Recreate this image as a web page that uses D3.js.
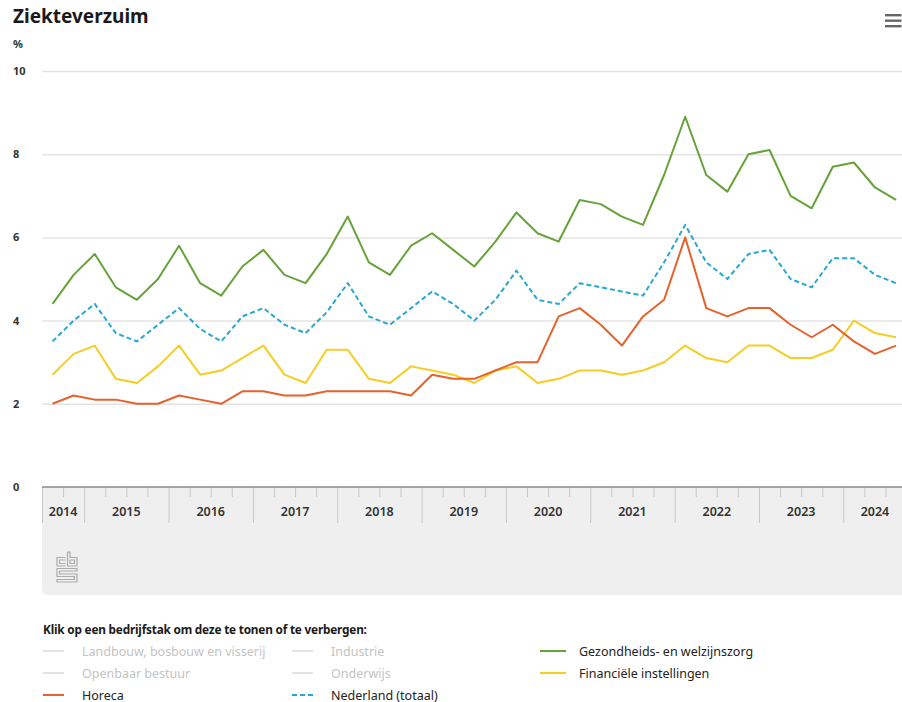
<!DOCTYPE html>
<html>
<head>
<meta charset="utf-8">
<script src="https://cdn.jsdelivr.net/npm/d3@7"></script>
<style>
  body { margin: 0; background: #fff; }
  svg { display: block; font-family: "Noto Sans", sans-serif; }
</style>
</head>
<body>
<div class="chart"></div>
<script>
// kwartalen 2014K3 t/m 2024K3
const quarters = [
  "2014K3","2014K4",
  "2015K1","2015K2","2015K3","2015K4",
  "2016K1","2016K2","2016K3","2016K4",
  "2017K1","2017K2","2017K3","2017K4",
  "2018K1","2018K2","2018K3","2018K4",
  "2019K1","2019K2","2019K3","2019K4",
  "2020K1","2020K2","2020K3","2020K4",
  "2021K1","2021K2","2021K3","2021K4",
  "2022K1","2022K2","2022K3","2022K4",
  "2023K1","2023K2","2023K3","2023K4",
  "2024K1","2024K2","2024K3"
];

const years = [2014, 2015, 2016, 2017, 2018, 2019, 2020, 2021, 2022, 2023, 2024];
const yTicks = [0, 2, 4, 6, 8, 10];

const zorg = [4.4,5.1,5.6,4.8,4.5,5.0,5.8,4.9,4.6,5.3,5.7,5.1,4.9,5.6,6.5,5.4,5.1,5.8,6.1,5.7,5.3,5.9,6.6,6.1,5.9,6.9,6.8,6.5,6.3,7.5,8.9,7.5,7.1,8.0,8.1,7.0,6.7,7.7,7.8,7.2,6.9];
const nederland = [3.5,4.0,4.4,3.7,3.5,3.9,4.3,3.8,3.5,4.1,4.3,3.9,3.7,4.2,4.9,4.1,3.9,4.3,4.7,4.4,4.0,4.5,5.2,4.5,4.4,4.9,4.8,4.7,4.6,5.4,6.3,5.4,5.0,5.6,5.7,5.0,4.8,5.5,5.5,5.1,4.9];
const financieel = [2.7,3.2,3.4,2.6,2.5,2.9,3.4,2.7,2.8,3.1,3.4,2.7,2.5,3.3,3.3,2.6,2.5,2.9,2.8,2.7,2.5,2.8,2.9,2.5,2.6,2.8,2.8,2.7,2.8,3.0,3.4,3.1,3.0,3.4,3.4,3.1,3.1,3.3,4.0,3.7,3.6];
const horeca = [2.0,2.2,2.1,2.1,2.0,2.0,2.2,2.1,2.0,2.3,2.3,2.2,2.2,2.3,2.3,2.3,2.3,2.2,2.7,2.6,2.6,2.8,3.0,3.0,4.1,4.3,3.9,3.4,4.1,4.5,6.0,4.3,4.1,4.3,4.3,3.9,3.6,3.9,3.5,3.2,3.4];

const series = [
  {name: "Financiële instellingen", values: financieel, color: "#f5cd24", dash: null},
  {name: "Horeca", values: horeca, color: "#e6622c", dash: null},
  {name: "Nederland (totaal)", values: nederland, color: "#2aa7d0", dash: "5,3"},
  {name: "Gezondheids- en welzijnszorg", values: zorg, color: "#66a23a", dash: null}
];

const legendItems = [
  {name: "Landbouw, bosbouw en visserij", col: 0, row: 0, active: false},
  {name: "Industrie", col: 1, row: 0, active: false},
  {name: "Gezondheids- en welzijnszorg", col: 2, row: 0, active: true},
  {name: "Openbaar bestuur", col: 0, row: 1, active: false},
  {name: "Onderwijs", col: 1, row: 1, active: false},
  {name: "Financiële instellingen", col: 2, row: 1, active: true},
  {name: "Horeca", col: 0, row: 2, active: true},
  {name: "Nederland (totaal)", col: 1, row: 2, active: true}
];

function Charting(){
  const W = 902, H = 702;
  const left = 42, right = 906.6, top = 71, bottom = 487;

  const svg = d3.select(".chart").append("svg")
    .attr("width", W)
    .attr("height", H);

  // kwartaal -> fractioneel jaar (midden van kwartaal)
  const qTime = q => +q.slice(0, 4) + (+q.slice(5) - 1) / 4 + 0.125;

  const xScale = d3.scaleLinear()
    .domain([2014.5, 2024.75])
    .range([left, right]);

  const yScale = d3.scaleLinear()
    .domain([0, 10])
    .range([bottom, top]);

  // titel
  svg.append("text")
    .attr("x", 13).attr("y", 23)
    .style("font-size", "19px").style("font-weight", "bold").style("fill", "#1a1a1a")
    .text("Ziekteverzuim");

  // menu-icoon
  svg.append("g").selectAll("rect")
    .data([0, 1, 2]).enter().append("rect")
    .attr("x", 885).attr("y", d => 14 + d * 5.5)
    .attr("width", 16.5).attr("height", 2.4)
    .attr("fill", "#666");

  svg.append("text")
    .attr("x", 13).attr("y", 48)
    .style("font-size", "11px").style("font-weight", "bold").style("fill", "#333")
    .text("%");

  // grijze band onder de as
  svg.append("path")
    .attr("d", `M${left},${bottom} H${W} V595 H${left + 6} Q${left},595 ${left},589 Z`)
    .attr("fill", "#efefef");

  // gridlijnen
  const yAxis = d3.axisLeft(yScale)
    .tickValues(yTicks.filter(d => d > 0))
    .tickSize(-(W - left))
    .tickFormat("");

  svg.append("g")
    .attr("class", "grid")
    .attr("transform", `translate(${left},0)`)
    .call(yAxis)
    .call(g => g.select(".domain").remove())
    .call(g => g.selectAll("line").attr("stroke", "#e3e3e3").attr("stroke-width", 1.5));

  svg.append("g").selectAll("text")
    .data(yTicks).enter().append("text")
    .attr("x", 13)
    .attr("y", d => yScale(d) + 4)
    .style("font-size", "11px").style("font-weight", "bold").style("fill", "#333")
    .text(d => d);

  // x-as: kwartaal- en jaarstreepjes
  const quarterTicks = d3.range(2014.75, 2024.75, 0.25).filter(d => d % 1 !== 0);
  const yearTicks = years.slice(1);

  svg.append("g")
    .attr("transform", `translate(0,${bottom})`)
    .call(d3.axisBottom(xScale).tickValues(quarterTicks).tickSize(10).tickFormat(""))
    .call(g => g.select(".domain").remove())
    .call(g => g.selectAll("line").attr("stroke", "#c8c8c8"));

  svg.append("g")
    .attr("transform", `translate(0,${bottom})`)
    .call(d3.axisBottom(xScale).tickValues([2014.5].concat(yearTicks)).tickSize(36).tickFormat(""))
    .call(g => g.select(".domain").remove())
    .call(g => g.selectAll("line").attr("stroke", "#c8c8c8"));

  svg.append("line")
    .attr("x1", left).attr("x2", W)
    .attr("y1", bottom).attr("y2", bottom)
    .attr("stroke", "#8a8a8a").attr("stroke-width", 1.5);

  svg.append("g").selectAll("text")
    .data(years).enter().append("text")
    .attr("x", d => xScale((Math.max(d, 2014.5) + Math.min(d + 1, 2024.75)) / 2))
    .attr("y", 516)
    .attr("text-anchor", "middle")
    .style("font-size", "12.5px").style("font-weight", "600").style("fill", "#333")
    .text(d => d);

  // cbs-logo
  const logo = svg.append("g")
    .attr("transform", "translate(56,551)")
    .attr("fill", "none").attr("stroke", "#ababab").attr("stroke-width", 1.2);
  logo.append("path").attr("d", "M9.5,6.5 H1 V15 H9.5 M9.5,9 H3.5 V12.5 H9.5");
  logo.append("path").attr("d", "M11.5,1 V15 H21 V6.5 H14 V1 Z M14,9 H18.5 V12.5 H14 Z");
  logo.append("path").attr("d", "M21,17.5 H1 V25.5 H18.5 V28.5 H1 V31 H21 V23 H3.5 V20 H21 Z");

  // lijnen
  const line = d3.line()
    .x((d, i) => xScale(qTime(quarters[i])))
    .y(d => yScale(d));

  svg.append("g").selectAll("path")
    .data(series).enter().append("path")
    .attr("d", d => line(d.values))
    .attr("fill", "none")
    .attr("stroke", d => d.color)
    .attr("stroke-width", 2)
    .attr("stroke-linejoin", "round")
    .attr("stroke-dasharray", d => d.dash);

  // legenda
  svg.append("text")
    .attr("x", 43).attr("y", 634)
    .style("font-size", "11.8px").style("font-weight", "bold").style("fill", "#1a1a1a")
    .style("letter-spacing", "-0.2px")
    .text("Klik op een bedrijfstak om deze te tonen of te verbergen:");

  const colX = [43, 292, 540];
  const colorOf = name => {
    const s = series.find(s => s.name === name);
    return s ? s.color : "#cccccc";
  };
  const dashOf = name => {
    const s = series.find(s => s.name === name);
    return s ? s.dash : null;
  };

  const legend = svg.selectAll(".legend")
    .data(legendItems).enter().append("g")
    .attr("class", "legend")
    .attr("transform", d => `translate(${colX[d.col]},${651 + d.row * 22})`);

  legend.append("line")
    .attr("x1", 0).attr("x2", d => d.col === 2 ? 26 : 21)
    .attr("y1", 0).attr("y2", 0)
    .attr("stroke", d => d.active ? colorOf(d.name) : "#d0d0d0")
    .attr("stroke-width", d => d.active ? 2 : 1.2)
    .attr("stroke-dasharray", d => d.active ? dashOf(d.name) : null);

  legend.append("text")
    .attr("x", 39)
    .attr("y", 4.5)
    .style("font-size", "12.5px")
    .style("fill", d => d.active ? "#222" : "#c4c4c4")
    .text(d => d.name);
}

Charting();
</script>
</body>
</html>
